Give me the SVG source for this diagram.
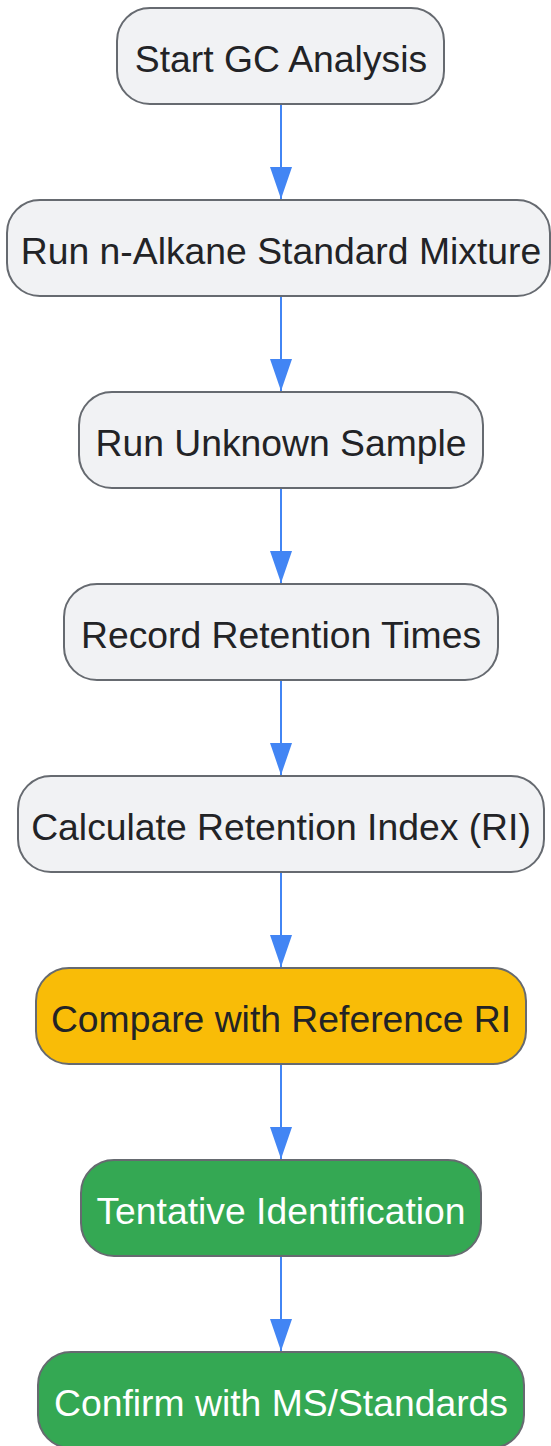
<svg xmlns="http://www.w3.org/2000/svg" width="551" height="1446" viewBox="0 0 551 1446">
<style>
.n rect{stroke:#666a70;stroke-width:2}
.g rect{fill:#f1f2f4}
.o rect{fill:#f9bc07}
.gr rect{fill:#34a853}
.n text{font-family:"Liberation Sans",Arial,sans-serif;font-size:37.3px;text-anchor:middle;fill:#222326}
.gr text{fill:#ffffff}
.e line{stroke:#4285f4;stroke-width:2}
</style>
<defs>
<marker id="ah" viewBox="0 0 32 22" refX="32" refY="11" markerWidth="32" markerHeight="22" markerUnits="userSpaceOnUse" orient="auto">
<path d="M0,0 L32,11 L0,22 Z" fill="#4285f4"/>
</marker>
</defs>
<g id="edges" class="e">
<line x1="281" y1="105" x2="281" y2="199" marker-end="url(#ah)"/>
<line x1="281" y1="297" x2="281" y2="391" marker-end="url(#ah)"/>
<line x1="281" y1="489" x2="281" y2="583" marker-end="url(#ah)"/>
<line x1="281" y1="681" x2="281" y2="775" marker-end="url(#ah)"/>
<line x1="281" y1="873" x2="281" y2="967" marker-end="url(#ah)"/>
<line x1="281" y1="1065" x2="281" y2="1159" marker-end="url(#ah)"/>
<line x1="281" y1="1257" x2="281" y2="1351" marker-end="url(#ah)"/>
</g>
<g id="n1" class="n g"><rect x="117" y="8" width="327" height="96" rx="33"/><text x="281" y="72">Start GC Analysis</text></g>
<g id="n2" class="n g"><rect x="7" y="200" width="543" height="96" rx="33"/><text x="281" y="264">Run n-Alkane Standard Mixture</text></g>
<g id="n3" class="n g"><rect x="79" y="392" width="404" height="96" rx="33"/><text x="281" y="456">Run Unknown Sample</text></g>
<g id="n4" class="n g"><rect x="64" y="584" width="434" height="96" rx="33"/><text x="281" y="648">Record Retention Times</text></g>
<g id="n5" class="n g"><rect x="18" y="776" width="526" height="96" rx="33"/><text x="281" y="840">Calculate Retention Index (RI)</text></g>
<g id="n6" class="n o"><rect x="36" y="968" width="490" height="96" rx="33"/><text x="281" y="1032">Compare with Reference RI</text></g>
<g id="n7" class="n gr"><rect x="81" y="1160" width="400" height="96" rx="33"/><text x="281" y="1224">Tentative Identification</text></g>
<g id="n8" class="n gr"><rect x="38" y="1352" width="486" height="96" rx="33"/><text x="281" y="1416">Confirm with MS/Standards</text></g>
</svg>
